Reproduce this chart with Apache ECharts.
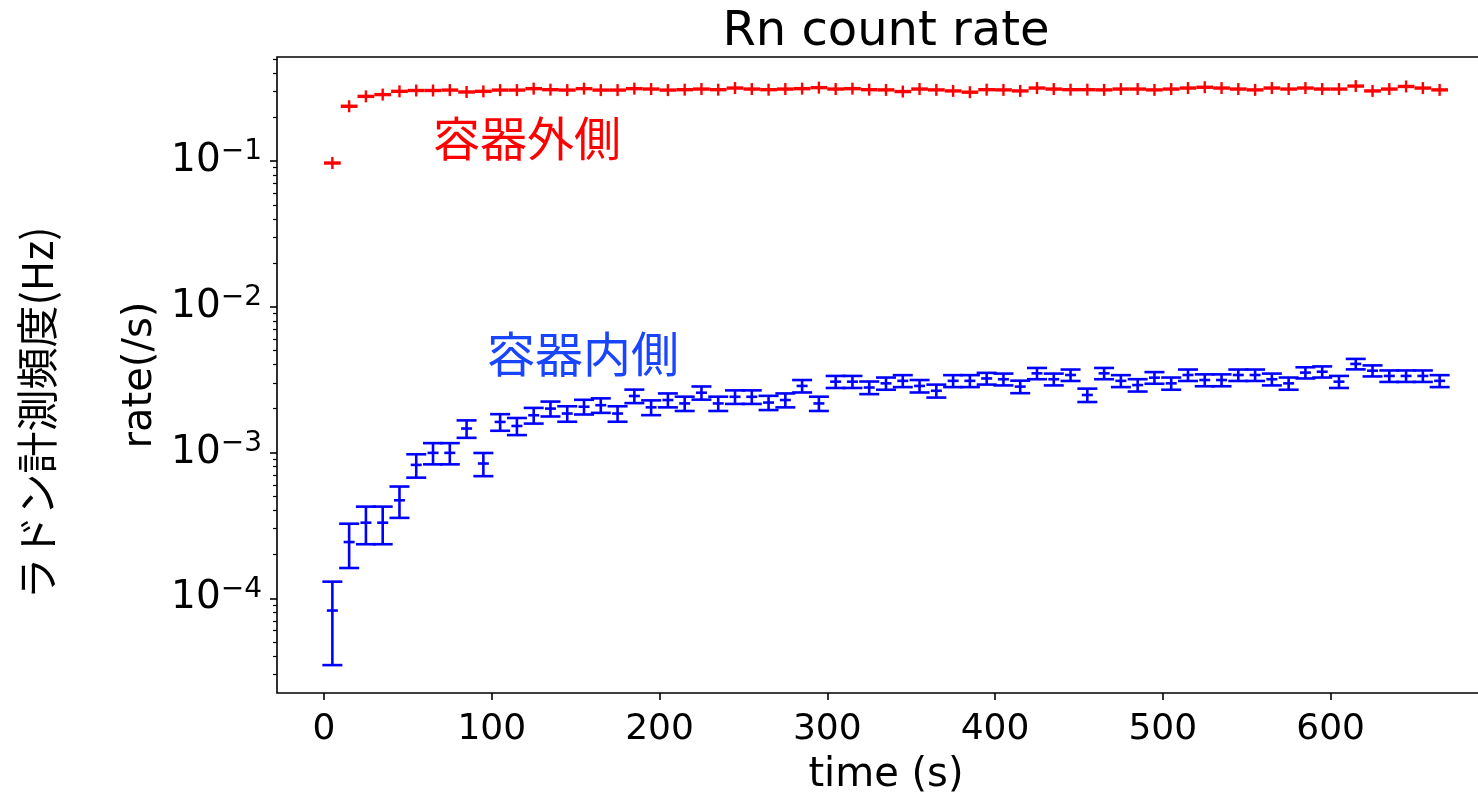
<!DOCTYPE html>
<html>
<head>
<meta charset="utf-8">
<script src="https://cdn.jsdelivr.net/npm/echarts@6/dist/echarts.min.js"></script>
<style>
  html, body { margin: 0; padding: 0; background: #ffffff; }
  #chart { width: 1478px; height: 793px; }
</style>
</head>
<body>
<div id="chart"></div>
<script>
// Measurement times (s), bin centres
const times = [5, 15, 25, 35, 45, 55, 65, 75, 85, 95, 105, 115, 125, 135, 145, 155, 165, 175, 185, 195,
  205, 215, 225, 235, 245, 255, 265, 275, 285, 295, 305, 315, 325, 335, 345, 355, 365, 375, 385, 395,
  405, 415, 425, 435, 445, 455, 465, 475, 485, 495, 505, 515, 525, 535, 545, 555, 565, 575, 585, 595,
  605, 615, 625, 635, 645, 655, 665];

// Outside the container (red)
const outsideRate = [0.0967, 0.237, 0.277, 0.285, 0.300, 0.304, 0.304, 0.306, 0.297, 0.300,
  0.306, 0.306, 0.313, 0.308, 0.306, 0.313, 0.306, 0.306, 0.313, 0.311,
  0.306, 0.308, 0.311, 0.308, 0.316, 0.311, 0.308, 0.311, 0.313, 0.318,
  0.311, 0.313, 0.308, 0.307, 0.299, 0.311, 0.307, 0.302, 0.296, 0.308,
  0.307, 0.302, 0.316, 0.311, 0.308, 0.308, 0.307, 0.311, 0.311, 0.307,
  0.311, 0.316, 0.320, 0.316, 0.311, 0.307, 0.316, 0.311, 0.316, 0.311,
  0.311, 0.326, 0.302, 0.311, 0.324, 0.316, 0.307];

// Inside the container (blue) and its statistical error
const insideRate = [8.24e-5, 2.43e-4, 3.30e-4, 3.30e-4, 4.70e-4, 8.22e-4, 9.94e-4, 9.94e-4, 1.46e-3, 8.40e-4,
  1.62e-3, 1.52e-3, 1.80e-3, 2.00e-3, 1.85e-3, 2.06e-3, 2.11e-3, 1.85e-3, 2.44e-3, 2.04e-3,
  2.29e-3, 2.17e-3, 2.57e-3, 2.17e-3, 2.41e-3, 2.41e-3, 2.20e-3, 2.29e-3, 2.86e-3, 2.17e-3,
  3.06e-3, 3.06e-3, 2.79e-3, 2.98e-3, 3.10e-3, 2.86e-3, 2.65e-3, 3.10e-3, 3.10e-3, 3.22e-3,
  3.18e-3, 2.83e-3, 3.49e-3, 3.18e-3, 3.40e-3, 2.48e-3, 3.49e-3, 3.10e-3, 2.90e-3, 3.26e-3,
  2.98e-3, 3.40e-3, 3.14e-3, 3.14e-3, 3.40e-3, 3.40e-3, 3.18e-3, 2.98e-3, 3.53e-3, 3.58e-3,
  3.06e-3, 4.05e-3, 3.64e-3, 3.35e-3, 3.35e-3, 3.35e-3, 3.10e-3];
const insideErr = [4.76e-5, 8.17e-5, 9.52e-5, 9.52e-5, 1.14e-4, 1.50e-4, 1.65e-4, 1.65e-4, 2.00e-4, 1.52e-4,
  2.11e-4, 2.04e-4, 2.22e-4, 2.34e-4, 2.25e-4, 2.38e-4, 2.41e-4, 2.25e-4, 2.59e-4, 2.37e-4,
  2.51e-4, 2.44e-4, 2.66e-4, 2.44e-4, 2.57e-4, 2.57e-4, 2.46e-4, 2.51e-4, 2.80e-4, 2.44e-4,
  2.90e-4, 2.90e-4, 2.77e-4, 2.86e-4, 2.92e-4, 2.80e-4, 2.70e-4, 2.92e-4, 2.92e-4, 2.97e-4,
  2.96e-4, 2.79e-4, 3.10e-4, 2.96e-4, 3.06e-4, 2.61e-4, 3.10e-4, 2.92e-4, 2.82e-4, 2.99e-4,
  2.86e-4, 3.06e-4, 2.94e-4, 2.94e-4, 3.06e-4, 3.06e-4, 2.96e-4, 2.86e-4, 3.11e-4, 3.14e-4,
  2.90e-4, 3.34e-4, 3.16e-4, 3.03e-4, 3.03e-4, 3.03e-4, 2.92e-4];

const xTicks = [0, 100, 200, 300, 400, 500, 600];
const yMajorTicks = [1e-4, 1e-3, 1e-2, 1e-1];
const yMinorTicks = [3e-5, 4e-5, 5e-5, 6e-5, 7e-5, 8e-5, 9e-5,
  2e-4, 3e-4, 4e-4, 5e-4, 6e-4, 7e-4, 8e-4, 9e-4,
  2e-3, 3e-3, 4e-3, 5e-3, 6e-3, 7e-3, 8e-3, 9e-3,
  2e-2, 3e-2, 4e-2, 5e-2, 6e-2, 7e-2, 8e-2, 9e-2,
  2e-1, 3e-1, 4e-1, 5e-1];

const LATIN = 'DejaVu Sans';
const CJK = '"Noto Sans CJK JP"';
const BIN_HALF = 5;

const outsideData = times.map((t, i) => [t, outsideRate[i]]);
const insideData = times.map((t, i) => [t, insideRate[i], insideErr[i]]);

// Outside counts: horizontal bin bar with a short vertical mark
function renderOutside(params, api) {
  const t = api.value(0), v = api.value(1);
  const l = api.coord([t - BIN_HALF, v]);
  const r = api.coord([t + BIN_HALF, v]);
  const c = api.coord([t, v]);
  return {
    type: 'group',
    children: [
      { type: 'line', shape: { x1: l[0], y1: l[1], x2: r[0], y2: r[1] }, style: { stroke: '#ff0000', lineWidth: 3.4 } },
      { type: 'line', shape: { x1: c[0], y1: c[1] - 6, x2: c[0], y2: c[1] + 6 }, style: { stroke: '#ff0000', lineWidth: 2.4 } }
    ]
  };
}

// Inside counts: capped vertical error bar with a centre mark
function renderInside(params, api) {
  const t = api.value(0), v = api.value(1), e = api.value(2);
  const top = api.coord([t, v + e]);
  const bot = api.coord([t, v - e]);
  const mid = api.coord([t, v]);
  const st = { stroke: '#0000ff', lineWidth: 2.6 };
  return {
    type: 'group',
    children: [
      { type: 'line', shape: { x1: top[0], y1: top[1], x2: bot[0], y2: bot[1] }, style: st },
      { type: 'line', shape: { x1: top[0] - 10, y1: top[1], x2: top[0] + 10, y2: top[1] }, style: st },
      { type: 'line', shape: { x1: bot[0] - 10, y1: bot[1], x2: bot[0] + 10, y2: bot[1] }, style: st },
      { type: 'line', shape: { x1: mid[0] - 5.5, y1: mid[1], x2: mid[0] + 5.5, y2: mid[1] }, style: st }
    ]
  };
}

function powerLabel(v) {
  const n = Math.round(Math.log10(v));
  return '{b|10}{e|' + (n < 0 ? '\u2212' : '') + Math.abs(n) + '}';
}

const chart = echarts.init(document.getElementById('chart'), null, { renderer: 'canvas' });

chart.setOption({
  backgroundColor: '#ffffff',
  animation: false,
  grid: {
    left: 277, top: 57, right: -17, bottom: 100,
    show: true, borderColor: '#000000', borderWidth: 1.6, backgroundColor: 'transparent',
    outerBoundsMode: 'none', containLabel: false
  },
  xAxis: {
    type: 'value', min: -28, max: 698,
    axisLine: { show: false, onZero: false },
    splitLine: { show: false },
    axisTick: { show: true, length: 7, lineStyle: { color: '#000', width: 1.6 }, customValues: xTicks },
    axisLabel: { customValues: xTicks, margin: 19, fontSize: 36, fontFamily: LATIN, color: '#000' },
    name: 'time (s)', nameLocation: 'middle', nameGap: 63,
    nameTextStyle: { fontSize: 40, fontFamily: LATIN, color: '#000' }
  },
  yAxis: [
    {
      type: 'log', logBase: 10, min: 2.24e-5, max: 0.516, position: 'left',
      axisLine: { show: false, onZero: false },
      splitLine: { show: false },
      minorTick: { show: false },
      axisTick: { show: true, length: 7, lineStyle: { color: '#000', width: 1.6 }, customValues: yMajorTicks },
      axisLabel: {
        customValues: yMajorTicks, margin: 15, formatter: powerLabel,
        rich: {
          b: { fontSize: 39, fontFamily: LATIN, color: '#000', lineHeight: 46 },
          e: { fontSize: 28, fontFamily: LATIN, color: '#000', verticalAlign: 'top', lineHeight: 25 }
        }
      },
      name: 'rate(/s)', nameLocation: 'middle', nameGap: 114,
      nameTextStyle: { fontSize: 40, fontFamily: LATIN, color: '#000' }
    },
    {
      type: 'log', logBase: 10, min: 2.24e-5, max: 0.516, position: 'left',
      axisLine: { show: false, onZero: false },
      splitLine: { show: false },
      minorTick: { show: false },
      axisTick: { show: true, length: 4, lineStyle: { color: '#000', width: 1.2 }, customValues: yMinorTicks },
      axisLabel: { show: false }
    }
  ],
  series: [
    {
      type: 'custom', name: '容器外側', renderItem: renderOutside, data: outsideData,
      encode: { x: 0, y: 1 }, clip: false, z: 3
    },
    {
      type: 'custom', name: '容器内側', renderItem: renderInside, data: insideData,
      encode: { x: 0, y: 1 }, clip: false, z: 3
    }
  ],
  graphic: [
    {
      type: 'text', x: 886, y: 33, silent: true,
      style: { text: 'Rn count rate', fontSize: 48, fontFamily: LATIN, fill: '#000', align: 'center', verticalAlign: 'middle' }
    },
    {
      type: 'text', x: 433, y: 138, silent: true,
      style: { text: '容器外側', fontSize: 47, fontFamily: CJK, fill: '#ff0000', align: 'left', verticalAlign: 'middle' }
    },
    {
      type: 'text', x: 487, y: 354, silent: true,
      style: { text: '容器内側', fontSize: 48, fontFamily: CJK, fill: '#1a45ff', align: 'left', verticalAlign: 'middle' }
    },
    {
      type: 'text', x: 37, y: 413, rotation: Math.PI / 2, silent: true,
      style: { text: 'ラドン計測頻度(Hz)', fontSize: 42, fontFamily: CJK, fill: '#000', align: 'center', verticalAlign: 'middle' }
    }
  ]
});
</script>
</body>
</html>
